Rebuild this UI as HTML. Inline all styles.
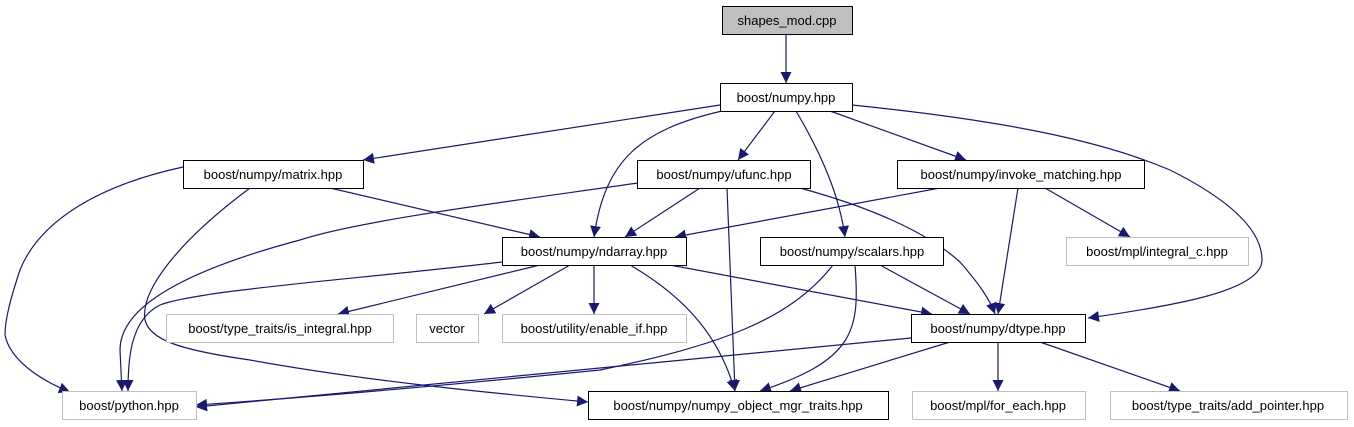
<!DOCTYPE html>
<html><head><meta charset="utf-8"><style>
html,body{margin:0;padding:0;background:#fff;}
svg{display:block}
text{font-family:"Liberation Sans",sans-serif;font-size:13px;fill:#000}
</style></head><body>
<svg width="1354" height="427" viewBox="0 0 1354 427" xmlns="http://www.w3.org/2000/svg">
<defs>
<marker id="a" viewBox="0 0 10 10" refX="10" refY="5" markerWidth="11" markerHeight="11" markerUnits="userSpaceOnUse" orient="auto">
<path d="M0,0 L10,5 L0,10 z" fill="#191970"/></marker>
</defs>
<g fill="none" stroke="#191970" stroke-width="1.2" marker-end="url(#a)">
<path d="M786,34 L786,83"/>
<path d="M720,105 L363,160"/>
<path d="M775,111 L738,160"/>
<path d="M722,111 C640,130 605,160 594,237"/>
<path d="M796,111 C825,160 840,200 845,237"/>
<path d="M830,111 L966,160"/>
<path d="M852,105 C1000,120 1100,140 1170,170 C1230,200 1262,230 1262,260 C1262,290 1180,305 1088,318"/>
<path d="M183,167 C100,185 40,220 20,270 C10,300 5,320 5,335 C10,360 40,380 70,392"/>
<path d="M330,188 L540,237"/>
<path d="M250,188 C180,240 140,290 145,320 C150,340 180,350 250,360 C360,380 480,392 588,402"/>
<path d="M638,183 C520,200 360,220 300,240 C150,280 120,320 120,350 L122,391"/>
<path d="M700,188 L625,237"/>
<path d="M727,188 L735,391"/>
<path d="M800,188 C880,210 930,235 960,262 C980,285 990,300 995,314"/>
<path d="M940,188 L675,237"/>
<path d="M1018,188 L998,314"/>
<path d="M1045,188 L1130,237"/>
<path d="M502,262 C350,280 200,290 160,305 C130,320 128,360 128,391"/>
<path d="M540,265 L338,314"/>
<path d="M570,265 L484,314"/>
<path d="M594,265 L594,314"/>
<path d="M630,265 C690,300 720,340 735,391"/>
<path d="M670,265 L932,314"/>
<path d="M833,265 C790,320 720,345 600,370 C450,385 300,398 196,405"/>
<path d="M855,265 C860,330 855,360 760,391"/>
<path d="M880,265 L970,314"/>
<path d="M911,338 L196,407"/>
<path d="M950,342 L790,391"/>
<path d="M998,342 L998,391"/>
<path d="M1040,342 L1180,391"/>
</g>
<g stroke-width="1">
<rect x="722.5" y="6.5" width="130" height="28" fill="#bfbfbf" stroke="#000"/>
<rect x="720.5" y="83.5" width="132" height="28" fill="#fff" stroke="#000"/>
<rect x="183.5" y="160.5" width="180" height="28" fill="#fff" stroke="#000"/>
<rect x="637.5" y="160.5" width="173" height="28" fill="#fff" stroke="#000"/>
<rect x="897.5" y="160.5" width="247" height="28" fill="#fff" stroke="#000"/>
<rect x="502.5" y="237.5" width="184" height="28" fill="#fff" stroke="#000"/>
<rect x="760.5" y="237.5" width="183" height="28" fill="#fff" stroke="#000"/>
<rect x="1066.5" y="237.5" width="182" height="28" fill="#fff" stroke="#bfbfbf"/>
<rect x="166.5" y="314.5" width="227" height="28" fill="#fff" stroke="#bfbfbf"/>
<rect x="416.5" y="314.5" width="62" height="28" fill="#fff" stroke="#bfbfbf"/>
<rect x="502.5" y="314.5" width="184" height="28" fill="#fff" stroke="#bfbfbf"/>
<rect x="911.5" y="314.5" width="174" height="28" fill="#fff" stroke="#000"/>
<rect x="62.5" y="391.5" width="134" height="28" fill="#fff" stroke="#bfbfbf"/>
<rect x="588.5" y="391.5" width="300" height="28" fill="#fff" stroke="#000"/>
<rect x="912.5" y="391.5" width="173" height="28" fill="#fff" stroke="#bfbfbf"/>
<rect x="1110.5" y="391.5" width="237" height="28" fill="#fff" stroke="#bfbfbf"/>
</g>
<g text-anchor="middle">
<text x="787" y="25">shapes_mod.cpp</text>
<text x="786" y="102">boost/numpy.hpp</text>
<text x="273" y="179">boost/numpy/matrix.hpp</text>
<text x="724" y="179">boost/numpy/ufunc.hpp</text>
<text x="1021" y="179">boost/numpy/invoke_matching.hpp</text>
<text x="594" y="256">boost/numpy/ndarray.hpp</text>
<text x="852" y="256">boost/numpy/scalars.hpp</text>
<text x="1157" y="256">boost/mpl/integral_c.hpp</text>
<text x="280" y="333">boost/type_traits/is_integral.hpp</text>
<text x="447" y="333">vector</text>
<text x="594" y="333">boost/utility/enable_if.hpp</text>
<text x="998" y="333">boost/numpy/dtype.hpp</text>
<text x="129" y="410">boost/python.hpp</text>
<text x="738" y="410">boost/numpy/numpy_object_mgr_traits.hpp</text>
<text x="998" y="410">boost/mpl/for_each.hpp</text>
<text x="1228" y="410">boost/type_traits/add_pointer.hpp</text>
</g>
</svg>
</body></html>
